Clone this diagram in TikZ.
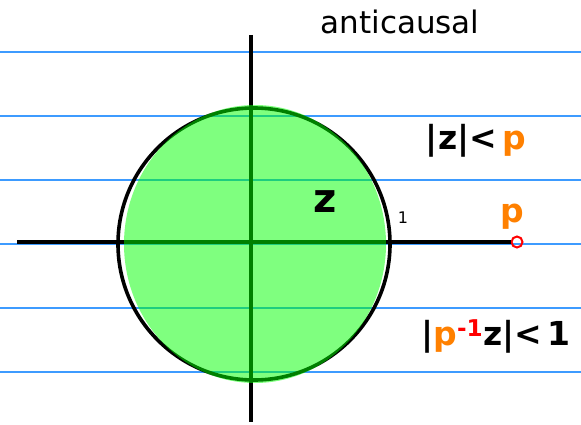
\documentclass[tikz,border=0pt]{standalone}
\usepackage{fontspec}
\setmainfont{DejaVu Sans}
\usepackage{tikz}
\usetikzlibrary{positioning}
\definecolor{RuleBlue}{HTML}{3D9BFF}
\definecolor{RocGreen}{HTML}{00FF00}
\definecolor{PoleOrange}{HTML}{FF8000}
\definecolor{PoleRed}{HTML}{FF0000}
\tikzset{
  ruleline/.style={draw=RuleBlue, line width=1.4pt},
  axisline/.style={draw=black, line width=3.6pt},
  unitcircle/.style={draw=black, line width=3.6pt},
  rocfill/.style={fill=RocGreen, fill opacity=0.5},
  polemark/.style={circle, draw=PoleRed, line width=2pt, minimum size=11pt, inner sep=0pt},
  handlabel/.style={inner sep=0pt, text=black, font=\bfseries},
  titlelabel/.style={inner sep=0pt, font=\fontsize{31}{36}\selectfont}
}

\begin{document}
\begin{tikzpicture}[x=1pt, y=-1pt]
\useasboundingbox (0,0) rectangle (581,425);
% notebook rules
\foreach \yy in {52,116,180,244,308,372}
  \draw[ruleline] (0,\yy) -- (581,\yy);
% axes and unit circle
\coordinate (origin) at (252,242);
\coordinate (xstart) at (17,242);
\coordinate (ystart) at (251,35);
\coordinate (yend) at (251,422);
\node[polemark] (pole) at (517,242) {};
\draw[axisline] (xstart) -- (pole.west);
\draw[axisline] (ystart) -- (yend);
\draw[unitcircle] (254,244) circle [radius=136];
% region of convergence
\fill[rocfill] (255,244) ellipse [x radius=131, y radius=139];
% labels
\node[titlelabel] (title) at (400,22) {anticausal};
\node[handlabel, font=\bfseries\fontsize{33}{40}\selectfont] (outer) at (476,141)
  {|z|<\,\textcolor{PoleOrange}{p}};
\node[handlabel, font=\bfseries\fontsize{33}{40}\selectfont] (inner) at (496,336)
  {|\textcolor{PoleOrange}{p}\textsuperscript{\textcolor{PoleRed}{-1}}z|<\,1};
\node[handlabel, font=\bfseries\fontsize{40}{48}\selectfont] (zlabel) at (325,202) {z};
\node[handlabel, font=\fontsize{16}{18}\selectfont] (unitlabel) at (403,218) {1};
\node[handlabel, text=PoleOrange, font=\bfseries\fontsize{33}{40}\selectfont, above=8pt of pole.north west, anchor=south] (plabel) {p};
\end{tikzpicture}
\end{document}
